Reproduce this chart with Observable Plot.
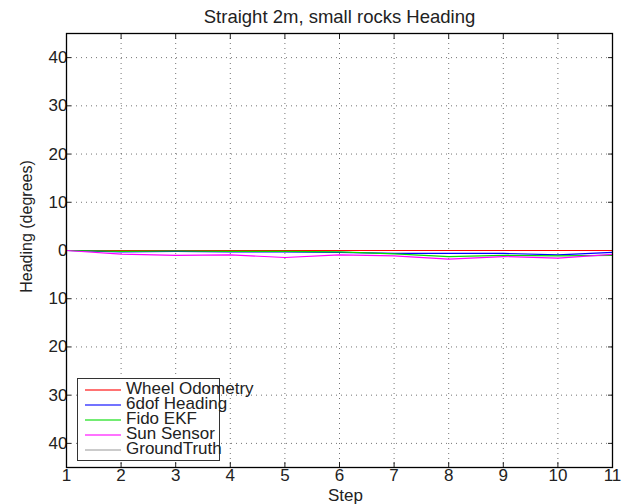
<!DOCTYPE html>
<html>
<head>
<meta charset="utf-8">
<script src="https://cdn.jsdelivr.net/npm/d3@7"></script>
<script src="https://cdn.jsdelivr.net/npm/@observablehq/plot@0.6"></script>
<style>
  html, body { margin: 0; padding: 0; background: #fff; }
  #wrap { position: relative; width: 624px; height: 504px; font-family: "Liberation Sans", Arial, sans-serif; }
  #legend { position: absolute; left: 77px; top: 378px; width: 143px; height: 83px; border: 1px solid #333; background: #fff; box-sizing: border-box; }
  .row { position: absolute; left: 0; height: 16px; white-space: nowrap; font-size: 17px; line-height: 16px; color: #222; }
  .row span.sw { position: absolute; left: 7px; top: 8px; width: 36px; height: 2px; }
  .row span.lb { position: absolute; left: 48px; top: 0; }
</style>
</head>
<body>
<div id="wrap"></div>
<script>
const steps = [1, 2, 3, 4, 5, 6, 7, 8, 9, 10, 11];
const wheelOdometry = [0, 0, 0, 0, 0, 0, 0, 0, 0, 0, 0];
const sixdofHeading = [0, -0.3, -0.2, -0.3, -0.3, -0.4, -0.6, -0.6, -0.6, -0.9, -0.4];
const fidoEKF = [0, -0.2, -0.1, -0.2, -0.2, -0.3, -0.7, -1.25, -1.0, -1.1, -1.0];
const sunSensor = [0, -0.75, -1.0, -0.9, -1.45, -0.9, -1.1, -1.8, -1.25, -1.6, -0.8];
const groundTruth = [0, 0, 0, 0, 0, 0, 0, 0, 0, 0, 0];
const seriesNames = ["Wheel Odometry", "6dof Heading", "Fido EKF", "Sun Sensor", "GroundTruth"];
const seriesValues = [wheelOdometry, sixdofHeading, fidoEKF, sunSensor, groundTruth];
const seriesColors = ["#ff0000", "#0000ff", "#00dd00", "#ff00ff", "#a0a0a0"];
const yTicks = [-40, -30, -20, -10, 0, 10, 20, 30, 40];
const xTicks = steps;
const titleText = "Straight 2m, small rocks Heading";
const yLabel = "Heading (degrees)";
const xLabel = "Step";

const rows = [];
seriesNames.forEach((name, i) => steps.forEach((s, j) => rows.push({series: name, step: s, value: seriesValues[i][j]})));
const drawOrder = [4, 0, 1, 2, 3];

const font = "Liberation Sans, Arial, sans-serif";
const chart = Plot.plot({
  width: 624,
  height: 504,
  marginLeft: 66,
  marginRight: 12,
  marginTop: 33,
  marginBottom: 37,
  style: {fontFamily: font, fontSize: "17px", color: "#222", background: "#fff"},
  x: {domain: [1, 11]},
  y: {domain: [-45, 45]},
  marks: [
    Plot.gridX(xTicks, {stroke: "#000", strokeOpacity: 0.55, strokeDasharray: "1,4"}),
    Plot.gridY(yTicks, {stroke: "#000", strokeOpacity: 0.55, strokeDasharray: "1,4"}),
    Plot.axisY(yTicks, {tickSize: 0, tickPadding: -1, tickFormat: d => String(Math.abs(d)), fontSize: 17, label: null}),
    Plot.axisY(yTicks, {tickSize: -5, text: null, label: null}),
    Plot.axisY(yTicks, {anchor: "right", tickSize: -5, text: null, label: null}),
    Plot.axisX(xTicks, {tickSize: 0, tickPadding: 1, fontSize: 17, tickFormat: d => String(d), label: null}),
    Plot.axisX(xTicks, {tickSize: -5, text: null, label: null}),
    Plot.axisX(xTicks, {anchor: "top", tickSize: -5, text: null, label: null}),
    ...drawOrder.map(i => Plot.line(rows.filter(r => r.series === seriesNames[i]),
      {x: "step", y: "value", stroke: seriesColors[i], strokeWidth: 1.2})),
    Plot.frame({stroke: "#000", strokeWidth: 1.3}),
    Plot.text([titleText], {frameAnchor: "top", lineAnchor: "middle", dy: -16, fontSize: 18.5, fill: "#222", text: d => d}),
    Plot.text([xLabel], {frameAnchor: "bottom", lineAnchor: "bottom", dx: 6, dy: 33, fontSize: 17, fill: "#222", text: d => d}),
    Plot.text([yLabel], {frameAnchor: "left", textAnchor: "middle", lineAnchor: "middle", dx: -40, dy: -24, rotate: -90, fontSize: 16, fill: "#222", text: d => d})
  ]
});
const wrap = document.getElementById("wrap");
wrap.appendChild(chart);

const legend = document.createElement("div");
legend.id = "legend";
seriesNames.forEach((name, i) => {
  const row = document.createElement("div");
  row.className = "row";
  row.style.top = (i * 15 + 2) + "px";
  const sw = document.createElement("span");
  sw.className = "sw";
  sw.style.background = seriesColors[i];
  sw.style.opacity = 0.55;
  const lb = document.createElement("span");
  lb.className = "lb";
  lb.textContent = name;
  row.appendChild(sw);
  row.appendChild(lb);
  legend.appendChild(row);
});
wrap.appendChild(legend);
</script>
</body>
</html>
